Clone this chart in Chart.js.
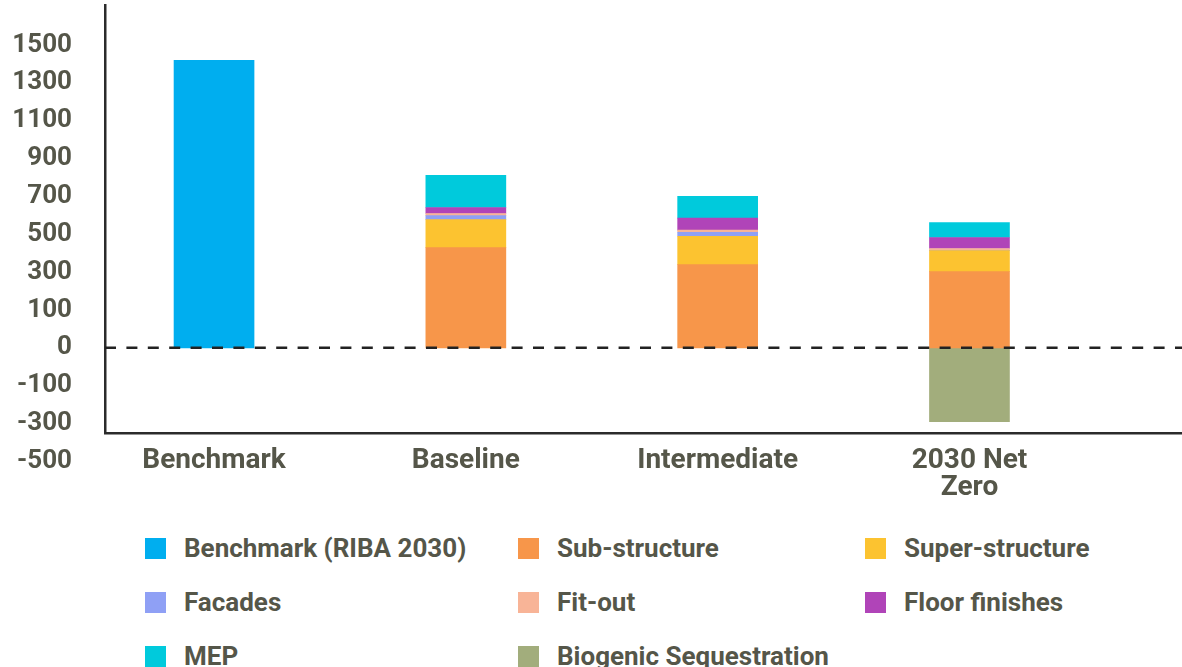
<!DOCTYPE html>
<html>
<head>
<meta charset="utf-8">
<script src="https://cdn.jsdelivr.net/npm/chart.js@4.4.0/dist/chart.umd.min.js"></script>
<style>
  body { margin: 0; background: #fff; overflow: hidden; }
  #wrap { position: relative; width: 1182px; height: 667px; }
  #legend {
    position: absolute; left: 145px; top: 521px;
    display: grid; grid-template-columns: 373px 347px 300px; grid-auto-rows: 54px;
    font-family: Roboto, sans-serif; font-weight: bold; font-size: 26px; color: #555649;
  }
  .item { display: flex; align-items: center; white-space: nowrap; }
  .box { width: 21px; height: 21px; margin-right: 18px; flex: none; }
</style>
</head>
<body>
<div id="wrap">
  <canvas id="myChart" width="1182" height="510"></canvas>
  <div id="legend"></div>
</div>
<script>
// categories (x axis)
var categories = ['Benchmark', 'Baseline', 'Intermediate', ['2030 Net', 'Zero']];

// y tick positions and the labels printed next to them
var tickValues = [-600, -400, -200, 0, 200, 400, 600, 800, 1000, 1200, 1400, 1600];
var tickLabels = ['-500', '-300', '-100', '0', '100', '300', '500', '700', '900', '1100', '1300', '1500'];

// series, one value per category (null = no bar)
var benchmark  = [1520, null, null, null];
var subStruct  = [null, 530, 440, 403];
var superStruct = [null, 148, 150, 111];
var facades    = [null, 21, 21, 0];
var fitOut     = [null, 11, 11, 11];
var floorFin   = [null, 32, 64, 58];
var mep        = [null, 170, 115, 79];
var biogenic   = [null, null, null, -390];

var textColor = '#555649';
var axisColor = '#2b2b2b';

function points(values) {
    var out = [];
    for (var i = 0; i < values.length; i++) {
        if (values[i] !== null) out.push({x: i, y: values[i]});
    }
    return out;
}

var dataSource = {
    datasets: [
        {label: 'Benchmark (RIBA 2030)', data: points(benchmark), backgroundColor: '#00aeef'},
        {label: 'Sub-structure', data: points(subStruct), backgroundColor: '#f7964a'},
        {label: 'Super-structure', data: points(superStruct), backgroundColor: '#fcc330'},
        {label: 'Facades', data: points(facades), backgroundColor: '#8fa0f5'},
        {label: 'Fit-out', data: points(fitOut), backgroundColor: '#f8b497'},
        {label: 'Floor finishes', data: points(floorFin), backgroundColor: '#b044b8'},
        {label: 'MEP', data: points(mep), backgroundColor: '#00cadc'},
        {label: 'Biogenic Sequestration', data: points(biogenic), backgroundColor: '#a2ad7c'}
    ]
};

// dashed line at zero, drawn over the bars
var zeroLine = {
    id: 'zeroLine',
    afterDatasetsDraw: function (chart) {
        var ctx = chart.ctx, area = chart.chartArea;
        var y = chart.scales.y.getPixelForValue(0);
        ctx.save();
        ctx.strokeStyle = '#222';
        ctx.lineWidth = 2.5;
        ctx.setLineDash([11, 10.4]);
        ctx.beginPath();
        ctx.moveTo(area.left, y);
        ctx.lineTo(area.right, y);
        ctx.stroke();
        ctx.restore();
    }
};

Chart.defaults.font.family = 'Roboto';
Chart.defaults.font.weight = 'bold';
Chart.defaults.color = textColor;

var ctx = document.getElementById('myChart').getContext('2d');
var myChart = new Chart(ctx, {
    type: 'bar',
    data: dataSource,
    plugins: [zeroLine],
    options: {
        responsive: false,
        animation: false,
        layout: {padding: {top: 5, right: 0, left: 0, bottom: 0}},
        barThickness: 80,
        plugins: {legend: {display: false}, tooltip: {enabled: false}},
        scales: {
            x: {
                type: 'linear',
                stacked: true,
                offset: false,
                min: -0.433,
                max: 3.844,
                grid: {display: false, drawTicks: false, tickLength: 0},
                border: {color: axisColor, width: 2.5},
                afterBuildTicks: function (s) {
                    s.ticks = categories.map(function (c, i) { return {value: i}; });
                },
                afterFit: function (s) {
                    s.height = 77;
                    s.paddingLeft = 0;
                    s.paddingRight = 0;
                },
                ticks: {
                    autoSkip: false,
                    maxRotation: 0,
                    padding: 14,
                    font: {size: 28, weight: 'bold', lineHeight: 0.97},
                    color: textColor,
                    callback: function (v) { return categories[v]; }
                }
            },
            y: {
                stacked: true,
                min: -450,
                max: 1812,
                grid: {display: false, drawTicks: false, tickLength: 0},
                border: {color: axisColor, width: 2.5},
                afterBuildTicks: function (s) {
                    s.ticks = tickValues.map(function (v) { return {value: v}; });
                },
                afterFit: function (s) {
                    s.width = 105;
                    s.paddingTop = 0;
                    s.paddingBottom = 0;
                },
                ticks: {
                    autoSkip: false,
                    padding: 33,
                    font: {size: 26, weight: 'bold'},
                    color: textColor,
                    callback: function (v) {
                        var i = tickValues.indexOf(v);
                        return i >= 0 ? tickLabels[i] : '';
                    }
                }
            }
        }
    }
});

// html legend in a 3 column grid
var legend = document.getElementById('legend');
myChart.data.datasets.forEach(function (ds) {
    var item = document.createElement('div');
    item.className = 'item';
    var box = document.createElement('span');
    box.className = 'box';
    box.style.background = ds.backgroundColor;
    var txt = document.createElement('span');
    txt.textContent = ds.label;
    item.appendChild(box);
    item.appendChild(txt);
    legend.appendChild(item);
});
</script>
</body>
</html>
